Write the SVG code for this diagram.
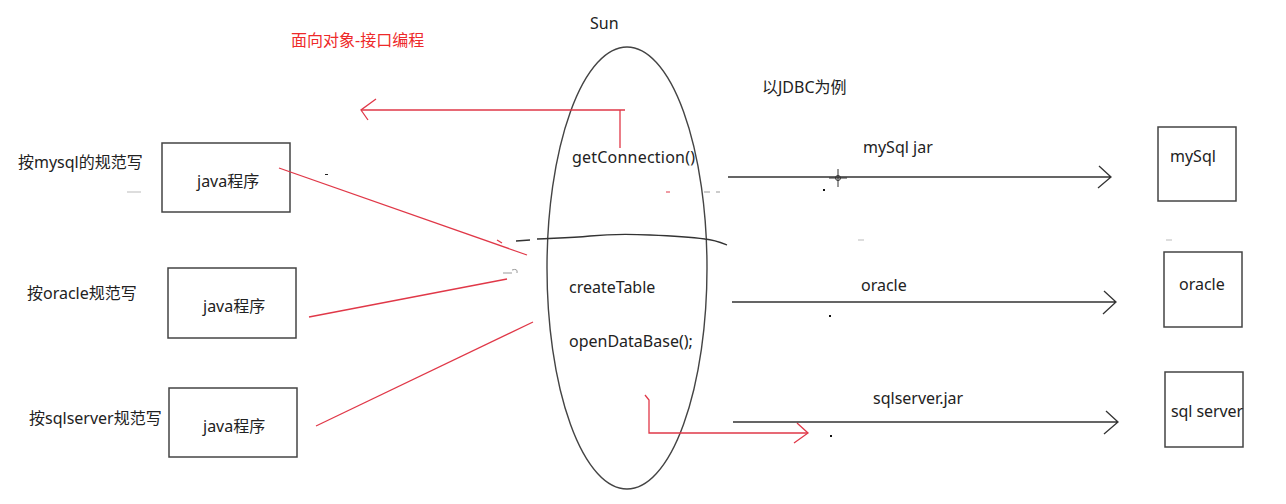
<svg xmlns="http://www.w3.org/2000/svg" width="1286" height="504" viewBox="0 0 1286 504">
<style>
text{font-family:"Noto Sans","Noto Sans CJK SC",sans-serif;font-size:16px;fill:#222}
.red{fill:#ee2a2a}
.box{fill:#fff;stroke:#444;stroke-width:1.5}
.blk{fill:none;stroke:#333;stroke-width:1.3}
.rl{fill:none;stroke:#e03848;stroke-width:1.3}
.mark{fill:none;stroke:#999;stroke-width:1}
</style>
<rect width="1286" height="504" fill="#fff"/>

<g id="title"><text class="red" x="291" y="46">面向对象-接口编程</text></g>
<g id="sun-label"><text x="590" y="29">Sun</text></g>
<g id="jdbc-label"><text x="762" y="93">以JDBC为例</text></g>

<g id="sun">
<ellipse cx="627" cy="268" rx="80" ry="221" fill="none" stroke="#444" stroke-width="1.4"/>
<text x="572" y="163" textLength="123">getConnection()</text>
<text x="569" y="293">createTable</text>
<text x="569" y="347">openDataBase();</text>
</g>

<g id="left-labels">
<text x="18" y="168">按mysql的规范写</text>
<text x="27" y="299">按oracle规范写</text>
<text x="29" y="424">按sqlserver规范写</text>
</g>

<g id="java1"><rect class="box" x="162" y="143" width="128" height="69"/><text x="197" y="187">java程序</text></g>
<g id="java2"><rect class="box" x="168" y="268" width="128" height="70"/><text x="203" y="312">java程序</text></g>
<g id="java3"><rect class="box" x="169" y="388" width="128" height="69"/><text x="203" y="432">java程序</text></g>

<g id="mysql"><rect class="box" x="1158" y="127" width="78" height="74"/><text x="1170" y="162">mySql</text></g>
<g id="oracle"><rect class="box" x="1164" y="252" width="78" height="75"/><text x="1179" y="290">oracle</text></g>
<g id="sqlserver"><rect class="box" x="1165" y="372" width="78" height="75"/><text x="1171" y="417" textLength="72">sql server</text></g>

<g id="connectors">
<!-- red interface arrow -->
<path class="rl" d="M620 148 V110 M625 110 H361"/>
<path class="rl" d="M376 99 L361 110 L368 120"/>
<!-- bottom red arrow -->
<path class="rl" d="M645 395 L649 400 V433 H807"/>
<path class="rl" stroke-width="1.2" d="M797 423 L808 433 L794 443"/>
<!-- red lines from programs -->
<path class="rl" d="M279 168 L527 255"/>
<path class="rl" d="M309 317 L507 279"/>
<path class="rl" d="M316 426 L533 322"/>
<path class="rl" d="M497 240 L502 243"/>
<path class="mark" d="M503 273 H512 M512 270 Q518 268 517 273"/>
<!-- divider line -->
<path class="blk" d="M516 241 L530 240 M537 239 C555 238 570 238 590 236 C610 234 630 234 650 235 C675 236 690 237 705 239 C715 240 722 243 727 245"/>
<!-- right arrows -->
<path class="blk" d="M728 177 H1110 M1099 166 L1111 177 L1098 188"/>
<path class="blk" d="M732 302 H1115 M1104 291 L1116 302 L1103 314"/>
<path class="blk" d="M733 422 H1117 M1106 411 L1118 422 L1104 434"/>
<text x="863" y="153">mySql jar</text>
<text x="861" y="291">oracle</text>
<text x="873" y="404">sqlserver.jar</text>
</g>

<g id="marks">
<circle cx="838" cy="178" r="2.5" fill="none" stroke="#333" stroke-width="1"/>
<path d="M838 169 V187 M829 178 H847" stroke="#333" stroke-width="1"/>
<rect x="823" y="189" width="2" height="2" fill="#111"/>
<rect x="829" y="315" width="2" height="2" fill="#111"/>
<rect x="830" y="435" width="2" height="2" fill="#111"/>
<rect x="325" y="174" width="3" height="1" fill="#222"/>
<path d="M127 192 H141" stroke="#bbb" stroke-width="1"/>
<path d="M666 192 H670" stroke="#e03848" stroke-width="1"/>
<path d="M704 192 H710 M716 192 H720" stroke="#999" stroke-width="1"/>
<path d="M858 240 H864 M1166 240 H1172" stroke="#bbb" stroke-width="1"/>
</g>
</svg>
